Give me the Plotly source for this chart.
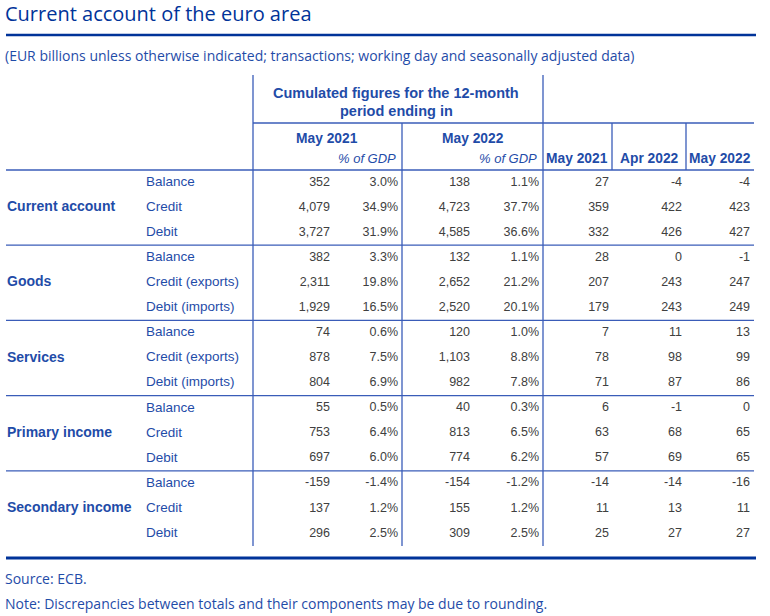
import plotly.graph_objects as go

# ---------------- data ----------------
groups = ["Current account", "Goods", "Services", "Primary income", "Secondary income"]
items = [
    ["Balance", "Credit", "Debit"],
    ["Balance", "Credit (exports)", "Debit (imports)"],
    ["Balance", "Credit (exports)", "Debit (imports)"],
    ["Balance", "Credit", "Debit"],
    ["Balance", "Credit", "Debit"],
]
cum_may2021 = [352, 4079, 3727, 382, 2311, 1929, 74, 878, 804, 55, 753, 697, -159, 137, 296]
gdp_may2021 = [3.0, 34.9, 31.9, 3.3, 19.8, 16.5, 0.6, 7.5, 6.9, 0.5, 6.4, 6.0, -1.4, 1.2, 2.5]
cum_may2022 = [138, 4723, 4585, 132, 2652, 2520, 120, 1103, 982, 40, 813, 774, -154, 155, 309]
gdp_may2022 = [1.1, 37.7, 36.6, 1.1, 21.2, 20.1, 1.0, 8.8, 7.8, 0.3, 6.5, 6.2, -1.2, 1.2, 2.5]
mon_may2021 = [27, 359, 332, 28, 207, 179, 7, 78, 71, 6, 63, 57, -14, 11, 25]
mon_apr2022 = [-4, 422, 426, 0, 243, 243, 11, 98, 87, -1, 68, 69, -14, 13, 27]
mon_may2022 = [-4, 423, 427, -1, 247, 249, 13, 99, 86, 0, 65, 65, -16, 11, 27]

title = "Current account of the euro area"
subtitle = "(EUR billions unless otherwise indicated; transactions; working day and seasonally adjusted data)"
source = "Source: ECB."
note = "Note: Discrepancies between totals and their components may be due to rounding."

# ---------------- layout constants ----------------
W, H = 770, 616
DARK = "#003399"
LINE = "#3a5cb8"
LABEL = "#1f4ca8"
NUM = "#404040"
TFONT = "Arial, Liberation Sans, sans-serif"

TOP = 170.0
ROW_H = 376.0 / 15
n_rows = len(cum_may2021)
row_y = [TOP + (i + 0.5) * ROW_H for i in range(n_rows)]

col_right = [330, 398, 470, 539, 609, 682, 750]

def fmt_num(v):
    return f"{v:,}"

def fmt_pct(v):
    return f"{v:.1f}%"

fig = go.Figure()

# numeric columns
cols = [
    [fmt_num(v) for v in cum_may2021],
    [fmt_pct(v) for v in gdp_may2021],
    [fmt_num(v) for v in cum_may2022],
    [fmt_pct(v) for v in gdp_may2022],
    [fmt_num(v) for v in mon_may2021],
    [fmt_num(v) for v in mon_apr2022],
    [fmt_num(v) for v in mon_may2022],
]
for xr, texts in zip(col_right, cols):
    fig.add_trace(go.Scatter(
        x=[xr] * n_rows, y=row_y, mode="text", text=texts,
        textposition="middle left",
        textfont=dict(family=TFONT, size=12.5, color=NUM),
        hoverinfo="skip", showlegend=False,
    ))

# item labels
item_labels = [it for g in items for it in g]
fig.add_trace(go.Scatter(
    x=[146] * n_rows, y=row_y, mode="text", text=item_labels,
    textposition="middle right",
    textfont=dict(family=TFONT, size=13.5, color=LABEL),
    hoverinfo="skip", showlegend=False,
))

# group labels (middle row of each group)
grp_y = [row_y[3 * g + 1] for g in range(len(groups))]
fig.add_trace(go.Scatter(
    x=[7] * len(groups), y=grp_y, mode="text",
    text=[f"<b>{g}</b>" for g in groups],
    textposition="middle right",
    textfont=dict(family=TFONT, size=14, color=LABEL),
    hoverinfo="skip", showlegend=False,
))

# ---------------- lines ----------------
shapes = []
def hline(y, x0, x1, color=LINE, w=1.3):
    shapes.append(dict(type="line", xref="x", yref="y", x0=x0, x1=x1, y0=y, y1=y,
                       line=dict(color=color, width=w)))
def vline(x, y0, y1, color=LINE, w=1.3):
    shapes.append(dict(type="line", xref="x", yref="y", x0=x, x1=x, y0=y0, y1=y1,
                       line=dict(color=color, width=w)))

hline(35, 6, 756, DARK, 2.5)
hline(123, 253, 754)
hline(TOP, 6, 754)
for g in range(1, len(groups)):
    hline(TOP + 3 * g * ROW_H, 6, 754)
hline(558, 6, 756, DARK, 3)

bottom = TOP + n_rows * ROW_H
vline(253, 75, bottom)
vline(543, 75, bottom)
vline(402, 123, bottom)
vline(612, 123, TOP)
vline(686, 123, TOP)

# ---------------- annotations ----------------
ann = []
def add(text, x, y, xanchor="left", size=12, color=LABEL, family=TFONT):
    ann.append(dict(text=text, x=x, y=y, xref="x", yref="y", xanchor=xanchor,
                    yanchor="middle", showarrow=False,
                    font=dict(family=family, size=size, color=color)))

OS = "Open Sans, sans-serif"
add(title, 3, 13, size=20, color=DARK, family=OS)
add(subtitle, 3, 55, size=14, color=LABEL, family=OS)
add(source, 3, 578, size=14, color=LABEL, family=OS)
add(note, 3, 603, size=14, color=LABEL, family=OS)

add("<b>Cumulated figures for the 12-month</b>", 396, 93, xanchor="center", size=14.5)
add("<b>period ending in</b>", 396, 111, xanchor="center", size=14.5)
add("<b>May 2021</b>", 327, 138, xanchor="center", size=13.8)
add("<b>May 2022</b>", 473, 138, xanchor="center", size=13.8)
add("<i>% of GDP</i>", 398, 158, xanchor="right", size=13)
add("<i>% of GDP</i>", 539, 158, xanchor="right", size=13)
add("<b>May 2021</b>", 577, 158, xanchor="center", size=13.8)
add("<b>Apr 2022</b>", 649, 158, xanchor="center", size=13.8)
add("<b>May 2022</b>", 720, 158, xanchor="center", size=13.8)

fig.update_layout(
    width=W, height=H,
    margin=dict(l=0, r=0, t=0, b=0),
    paper_bgcolor="white", plot_bgcolor="white",
    xaxis=dict(range=[0, W], visible=False, fixedrange=True),
    yaxis=dict(range=[H, 0], visible=False, fixedrange=True),
    shapes=shapes, annotations=ann,
    showlegend=False,
)

fig.write_html(
    "out.html",
    config={"displayModeBar": False},
    post_script="document.body.style.margin='0';document.body.style.overflow='hidden';",
)
